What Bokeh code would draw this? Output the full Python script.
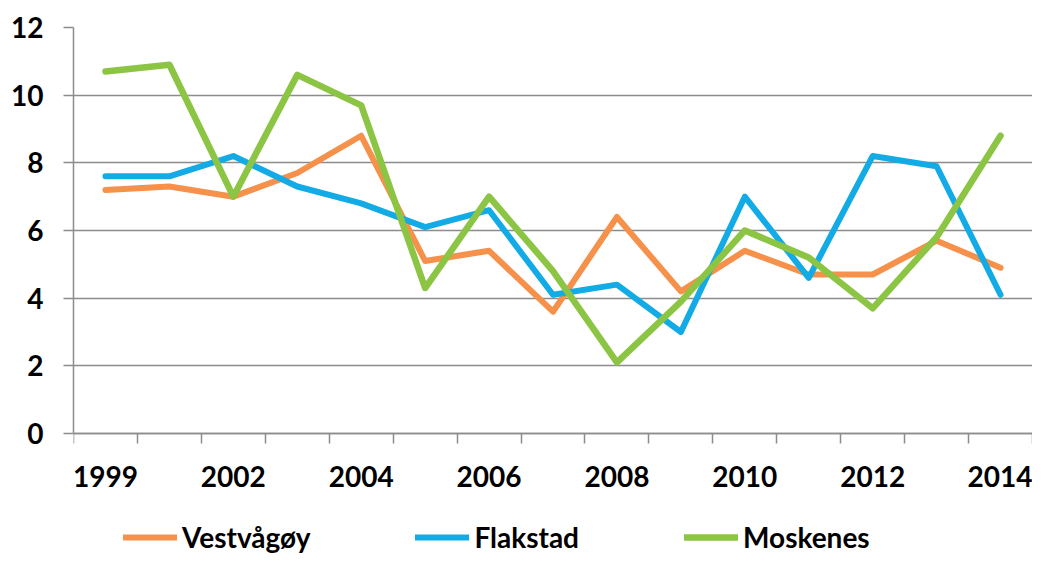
from bokeh.plotting import figure
from bokeh.models import FixedTicker, Legend, LegendItem, Range1d
from bokeh.embed import file_html
from bokeh.resources import INLINE

years = ["1999", "2001", "2002", "2003", "2004", "2005", "2006", "2007",
         "2008", "2009", "2010", "2011", "2012", "2013", "2014"]
shown_labels = ["1999", "2002", "2004", "2006", "2008", "2010", "2012", "2014"]
vestvagoy = [7.2, 7.3, 7.0, 7.7, 8.8, 5.1, 5.4, 3.6, 6.4, 4.2, 5.4, 4.7, 4.7, 5.7, 4.9]
flakstad = [7.6, 7.6, 8.2, 7.3, 6.8, 6.1, 6.6, 4.1, 4.4, 3.0, 7.0, 4.6, 8.2, 7.9, 4.1]
moskenes = [10.7, 10.9, 7.0, 10.6, 9.7, 4.3, 7.0, 4.8, 2.1, 3.9, 6.0, 5.2, 3.7, 5.8, 8.8]
series_names = ["Vestvågøy", "Flakstad", "Moskenes"]
colors = ["#F5914A", "#12ABE6", "#8BC543"]
y_ticks = [0, 2, 4, 6, 8, 10, 12]
y_min, y_max = 0, 12

FONT = "Lato"
GRAY = "#8C8C8C"

xs = list(range(len(years)))

# frame spans to the canvas bottom so the legend can sit under the axis
H, TOP = 554, 27
AXIS_Y = 433
unit = (AXIS_Y - TOP) / (y_max - y_min)
y_start = y_min - (H - AXIS_Y) / unit

p = figure(width=1032, height=H, output_backend="svg", toolbar_location=None,
           x_range=Range1d(-0.5, len(years) - 0.5), y_range=Range1d(y_start, y_max),
           min_border_left=73, min_border_top=TOP, min_border_right=0,
           min_border_bottom=0)
p.outline_line_color = None
p.background_fill_color = "white"
p.border_fill_color = "white"

# x axis: labels at every other category, tick marks at category boundaries
label_pos = [years.index(l) for l in shown_labels]
p.xaxis.fixed_location = 0
p.xaxis.ticker = FixedTicker(ticks=label_pos,
                             minor_ticks=[i - 0.5 for i in range(len(years) + 1)])
p.xaxis.major_label_overrides = {years.index(l): l for l in shown_labels}
p.xaxis.major_tick_out = 0
p.xaxis.major_tick_in = 0
p.xaxis.minor_tick_out = 10
p.xaxis.minor_tick_in = 0
p.xaxis.minor_tick_line_color = GRAY
p.xaxis.minor_tick_line_width = 1.5
p.xaxis.axis_line_color = GRAY
p.xaxis.axis_line_width = 1.5
p.xaxis.major_label_text_font = FONT
p.xaxis.major_label_text_font_style = "bold"
p.xaxis.major_label_text_font_size = "28px"
p.xaxis.major_label_text_color = "black"
p.xaxis.major_label_standoff = 22

# y axis
p.yaxis.bounds = (y_min, y_max)
p.yaxis.ticker = FixedTicker(ticks=y_ticks)
p.yaxis.major_tick_out = 10
p.yaxis.major_tick_in = 0
p.yaxis.minor_tick_line_color = None
p.yaxis.major_tick_line_color = GRAY
p.yaxis.major_tick_line_width = 1.5
p.yaxis.axis_line_color = GRAY
p.yaxis.axis_line_width = 1.5
p.yaxis.major_label_text_font = FONT
p.yaxis.major_label_text_font_style = "bold"
p.yaxis.major_label_text_font_size = "28px"
p.yaxis.major_label_text_color = "black"
p.yaxis.major_label_standoff = 20

p.xgrid.grid_line_color = None
p.ygrid.grid_line_color = GRAY
p.ygrid.grid_line_width = 1.5
p.ygrid.ticker = FixedTicker(ticks=y_ticks)

renderers = []
for vals, col, w in zip([vestvagoy, flakstad, moskenes], colors, [6, 6, 6.5]):
    r = p.line(xs, vals, line_color=col, line_width=w, line_join="round",
               line_cap="round")
    renderers.append(r)

legend = Legend(items=[LegendItem(label=n, renderers=[r])
                       for n, r in zip(series_names, renderers)],
                location=(50, 0), orientation="horizontal",
                padding=0, margin=0, spacing=105,
                border_line_color=None, background_fill_alpha=0,
                glyph_width=54, glyph_height=20, label_height=20,
                label_standoff=5,
                label_text_font=FONT, label_text_font_style="bold",
                label_text_font_size="28px", label_text_color="black")
p.add_layout(legend, "center")

open("out.html", "w").write(file_html(p, INLINE))
